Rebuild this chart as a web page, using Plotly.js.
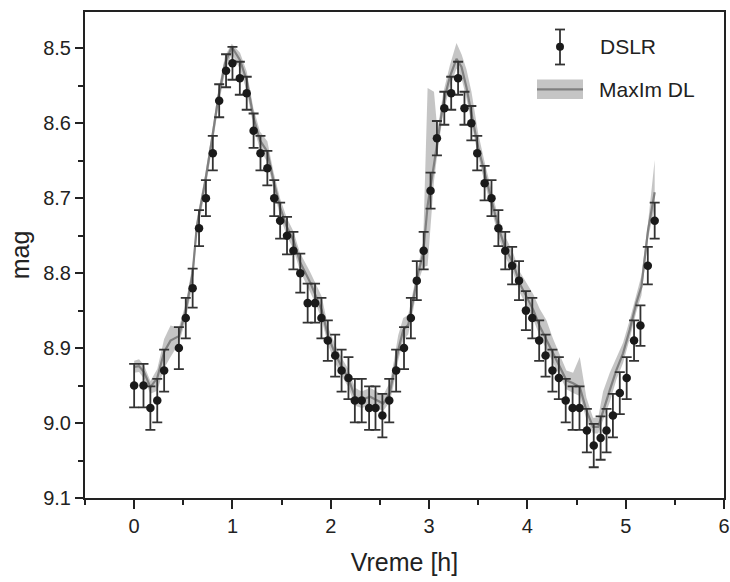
<!DOCTYPE html>
<html>
<head>
<meta charset="utf-8">
<script src="https://cdn.plot.ly/plotly-3.0.1.min.js"></script>
<style>html,body{margin:0;padding:0;background:#fff;}#chart{width:730px;height:582px;}</style>
</head>
<body>
<div id="chart"></div>
<script>
// DSLR photometry (time in hours, magnitude, error)
var dslrTime = [0.00,0.095,0.165,0.235,0.305,0.455,0.525,0.595,0.66,0.73,
  0.80,0.865,0.935,1.00,1.075,1.145,1.215,1.285,1.355,1.425,
  1.485,1.555,1.62,1.69,1.765,1.84,1.905,1.97,2.045,2.11,
  2.18,2.245,2.315,2.39,2.455,2.525,2.595,2.665,2.745,2.815,
  2.875,2.945,3.015,3.08,3.155,3.225,3.295,3.36,3.43,3.49,
  3.565,3.635,3.705,3.775,3.845,3.915,3.985,4.05,4.12,4.185,
  4.255,4.32,4.39,4.46,4.53,4.605,4.675,4.745,4.805,4.87,
  4.94,5.01,5.085,5.15,5.225,5.295];
var dslrMag = [8.95,8.95,8.98,8.97,8.93,8.90,8.86,8.82,8.74,8.70,
  8.64,8.57,8.53,8.52,8.54,8.56,8.61,8.64,8.66,8.70,
  8.73,8.75,8.77,8.80,8.84,8.84,8.86,8.89,8.91,8.93,
  8.94,8.97,8.97,8.98,8.98,8.99,8.97,8.93,8.90,8.86,
  8.81,8.77,8.69,8.62,8.58,8.56,8.54,8.58,8.60,8.64,
  8.68,8.70,8.74,8.77,8.79,8.81,8.85,8.86,8.89,8.91,
  8.93,8.94,8.97,8.98,8.98,9.01,9.03,9.02,9.01,8.99,
  8.96,8.94,8.89,8.87,8.79,8.73];
var dslrErr = [0.029,0.029,0.029,0.029,0.028,0.028,0.027,0.026,0.024,0.024,
  0.023,0.022,0.022,0.022,0.022,0.022,0.023,0.023,0.023,0.024,
  0.024,0.025,0.025,0.026,0.026,0.026,0.027,0.027,0.028,0.028,
  0.028,0.029,0.029,0.029,0.029,0.029,0.029,0.028,0.028,0.027,
  0.026,0.025,0.024,0.023,0.022,0.022,0.022,0.022,0.023,0.023,
  0.023,0.024,0.024,0.025,0.025,0.026,0.026,0.027,0.027,0.028,
  0.028,0.028,0.029,0.029,0.029,0.029,0.029,0.029,0.029,0.029,
  0.028,0.028,0.027,0.027,0.025,0.024];

// MaxIm DL photometry: time, centre magnitude, bright and faint band edges
var maximTime = [0.00,0.05,0.10,0.165,0.235,0.305,0.37,0.455,0.525,0.595,
  0.637,0.72,0.79,0.857,0.925,0.993,1.077,1.145,1.213,1.28,
  1.355,1.416,1.484,1.552,1.62,1.687,1.789,1.85,1.907,1.975,
  2.043,2.11,2.178,2.246,2.314,2.40,2.466,2.533,2.60,2.635,
  2.686,2.737,2.788,2.838,2.889,2.94,2.985,3.05,3.085,3.143,
  3.211,3.279,3.33,3.38,3.431,3.499,3.567,3.635,3.703,3.771,
  3.855,3.923,3.99,4.06,4.126,4.194,4.262,4.33,4.397,4.465,
  4.533,4.60,4.668,4.72,4.77,4.838,4.906,4.973,5.04,5.108,
  5.16,5.193,5.227,5.295];
var maximMag = [8.925,8.924,8.932,8.952,8.94,8.905,8.89,8.884,8.85,8.80,
  8.738,8.68,8.623,8.565,8.52,8.498,8.516,8.543,8.592,8.623,
  8.638,8.676,8.712,8.738,8.756,8.785,8.812,8.83,8.849,8.885,
  8.907,8.925,8.94,8.965,8.969,8.965,8.969,8.974,8.96,8.938,
  8.903,8.876,8.869,8.836,8.80,8.774,8.71,8.655,8.625,8.574,
  8.538,8.514,8.525,8.552,8.587,8.632,8.667,8.703,8.738,8.765,
  8.787,8.814,8.832,8.849,8.871,8.889,8.907,8.925,8.943,8.947,
  8.952,8.983,9.005,9.005,8.983,8.956,8.929,8.907,8.876,8.840,
  8.818,8.778,8.743,8.692];
var maximBright = [8.917,8.915,8.923,8.944,8.928,8.888,8.87,8.873,8.84,8.788,
  8.728,8.67,8.613,8.555,8.51,8.494,8.506,8.531,8.58,8.611,
  8.624,8.664,8.7,8.726,8.744,8.773,8.798,8.816,8.831,8.873,
  8.895,8.913,8.928,8.953,8.958,8.953,8.958,8.963,8.946,8.923,
  8.883,8.86,8.856,8.823,8.788,8.758,8.553,8.558,8.61,8.56,
  8.523,8.493,8.508,8.528,8.558,8.613,8.653,8.69,8.725,8.75,
  8.773,8.798,8.813,8.828,8.848,8.863,8.888,8.91,8.93,8.933,
  8.912,8.966,8.993,8.993,8.958,8.933,8.913,8.893,8.863,8.828,
  8.803,8.768,8.733,8.649];
var maximFaint = [8.933,8.932,8.941,8.961,8.957,8.927,8.912,8.894,8.862,8.814,
  8.75,8.692,8.635,8.577,8.532,8.507,8.528,8.557,8.604,8.635,
  8.652,8.688,8.724,8.75,8.768,8.797,8.824,8.842,8.862,8.897,
  8.919,8.937,8.952,8.977,8.98,8.977,8.98,8.984,8.972,8.952,
  8.917,8.89,8.882,8.85,8.812,8.792,8.79,8.677,8.64,8.587,
  8.552,8.527,8.54,8.567,8.6,8.644,8.68,8.716,8.75,8.777,
  8.799,8.826,8.844,8.862,8.884,8.902,8.92,8.937,8.955,8.96,
  8.964,8.995,9.014,9.014,8.997,8.972,8.942,8.92,8.888,8.852,
  8.83,8.792,8.754,8.712];

var xTickVals = [0,1,2,3,4,5,6];
var xTickText = ["0","1","2","3","4","5","6"];
var yTickVals = [8.5,8.6,8.7,8.8,8.9,9.0,9.1];
var yTickText = ["8.5","8.6","8.7","8.8","8.9","9.0","9.1"];

var FONT = "Liberation Sans, Arial, sans-serif";
var INK = "#222222";
var BAR = "#333333";

var traces = [
  {x: maximTime, y: maximBright, type: "scatter", mode: "lines",
   line: {width: 0, color: "rgba(0,0,0,0)"}, hoverinfo: "skip", showlegend: false},
  {x: maximTime, y: maximFaint, type: "scatter", mode: "lines", fill: "tonexty",
   fillcolor: "rgba(150,150,150,0.55)", line: {width: 0, color: "rgba(0,0,0,0)"},
   hoverinfo: "skip", showlegend: false},
  {x: maximTime, y: maximMag, type: "scatter", mode: "lines", name: "MaxIm DL",
   line: {width: 2.2, color: "#808080"}, showlegend: false},
  {x: dslrTime, y: dslrMag, type: "scatter", mode: "markers", name: "DSLR",
   marker: {size: 8.5, color: "#1a1a1a"},
   error_y: {type: "data", array: dslrErr, visible: true, color: BAR, thickness: 1.8, width: 5},
   showlegend: false}
];

function px2x(p){ return (p - 85) / 639; }
function px2y(p){ return (498 - p) / 486; }

var shapes = [
  // DSLR legend symbol
  {type: "line", xref: "paper", yref: "paper", x0: px2x(560), x1: px2x(560), y0: px2y(29.5), y1: px2y(64.5), line: {color: BAR, width: 1.8}},
  {type: "line", xref: "paper", yref: "paper", x0: px2x(555), x1: px2x(565), y0: px2y(29.5), y1: px2y(29.5), line: {color: BAR, width: 1.8}},
  {type: "line", xref: "paper", yref: "paper", x0: px2x(555), x1: px2x(565), y0: px2y(64.5), y1: px2y(64.5), line: {color: BAR, width: 1.8}},
  {type: "circle", xref: "paper", yref: "paper", x0: px2x(556), x1: px2x(564), y0: px2y(50.7), y1: px2y(42.7), fillcolor: "#1a1a1a", line: {width: 0}},
  // MaxIm DL legend symbol
  {type: "rect", xref: "paper", yref: "paper", x0: px2x(537), x1: px2x(583), y0: px2y(99), y1: px2y(79.5), fillcolor: "rgba(150,150,150,0.55)", line: {width: 0}},
  {type: "line", xref: "paper", yref: "paper", x0: px2x(537), x1: px2x(583), y0: px2y(89.3), y1: px2y(89.3), line: {color: "#808080", width: 2.2}}
];

var annotations = [
  {text: "DSLR", xref: "paper", yref: "paper", x: px2x(598), y: px2y(46), xanchor: "left", yanchor: "middle", showarrow: false, font: {family: FONT, size: 21, color: INK}},
  {text: "MaxIm DL", xref: "paper", yref: "paper", x: px2x(597), y: px2y(89.5), xanchor: "left", yanchor: "middle", showarrow: false, font: {family: FONT, size: 21, color: INK}}
];

var layout = {
  width: 730, height: 582,
  margin: {l: 85, r: 6, t: 12, b: 84},
  paper_bgcolor: "#ffffff", plot_bgcolor: "#ffffff",
  showlegend: false,
  font: {family: FONT, color: INK, size: 20},
  xaxis: {
    range: [-0.5, 6], tickmode: "array", tickvals: xTickVals, ticktext: xTickText,
    ticks: "outside", ticklen: 9, tickwidth: 2, tickcolor: INK,
    minor: {dtick: 0.5, tick0: 0, ticks: "outside", ticklen: 5, tickwidth: 2, tickcolor: INK},
    showline: true, linewidth: 2, linecolor: INK, mirror: true,
    showgrid: false, zeroline: false,
    tickfont: {family: FONT, size: 20, color: INK},
    title: {text: "Vreme [h]", font: {family: FONT, size: 25, color: INK}, standoff: 17}
  },
  yaxis: {
    range: [9.1, 8.4516], tickmode: "array", tickvals: yTickVals, ticktext: yTickText,
    ticks: "outside", ticklen: 8, tickwidth: 2, tickcolor: INK,
    minor: {dtick: 0.05, tick0: 8.5, ticks: "outside", ticklen: 5, tickwidth: 2, tickcolor: INK},
    showline: true, linewidth: 2, linecolor: INK, mirror: true,
    showgrid: false, zeroline: false,
    tickfont: {family: FONT, size: 20, color: INK},
    title: {text: "mag", font: {family: FONT, size: 25, color: INK}, standoff: 6}
  },
  shapes: shapes,
  annotations: annotations
};

Plotly.newPlot("chart", traces, layout, {displayModeBar: false, staticPlot: true});
</script>
</body>
</html>
